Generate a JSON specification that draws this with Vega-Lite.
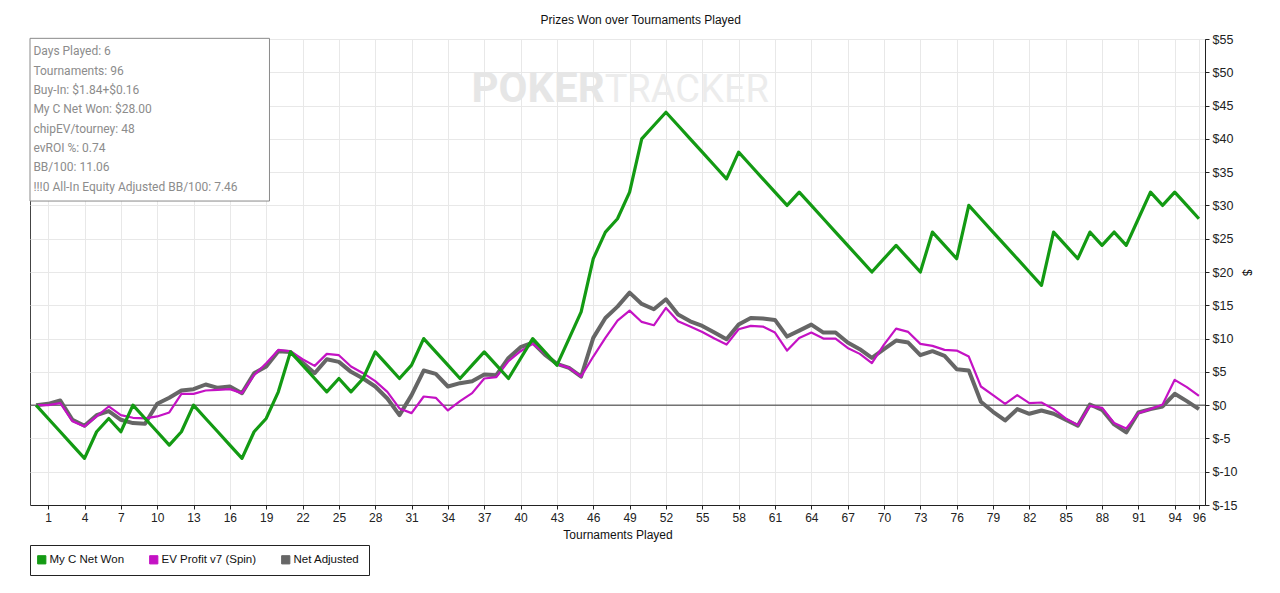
{
  "$schema": "https://vega.github.io/schema/vega-lite/v6.json",
  "width": 1175,
  "height": 466,
  "padding": {"left": 29, "top": 14, "right": 5, "bottom": 5},
  "background": "white",
  "title": {
    "text": "Prizes Won over Tournaments Played",
    "font": "Liberation Sans", "fontSize": 12, "fontWeight": "normal", "color": "#111",
    "anchor": "middle", "frame": "bounds", "offset": 6
  },
  "data": {
    "values": [
      {"t": 0, "won": 0, "ev": 0, "adj": 0},
      {"t": 1, "won": -2, "ev": 0.0, "adj": 0.2},
      {"t": 2, "won": -4, "ev": 0.3, "adj": 0.7},
      {"t": 3, "won": -6, "ev": -2.4, "adj": -2.2},
      {"t": 4, "won": -8, "ev": -3.2, "adj": -3.1},
      {"t": 5, "won": -4, "ev": -1.7, "adj": -1.5},
      {"t": 6, "won": -2, "ev": -0.2, "adj": -0.9},
      {"t": 7, "won": -4, "ev": -1.5, "adj": -2.2},
      {"t": 8, "won": 0, "ev": -1.9, "adj": -2.7},
      {"t": 9, "won": -2, "ev": -2.0, "adj": -2.8},
      {"t": 10, "won": -4, "ev": -1.7, "adj": 0.2},
      {"t": 11, "won": -6, "ev": -1.1, "adj": 1.1},
      {"t": 12, "won": -4, "ev": 1.7, "adj": 2.2},
      {"t": 13, "won": 0, "ev": 1.7, "adj": 2.4},
      {"t": 14, "won": -2, "ev": 2.2, "adj": 3.1},
      {"t": 15, "won": -4, "ev": 2.3, "adj": 2.6},
      {"t": 16, "won": -6, "ev": 2.4, "adj": 2.8},
      {"t": 17, "won": -8, "ev": 1.8, "adj": 1.8},
      {"t": 18, "won": -4, "ev": 4.5, "adj": 4.8},
      {"t": 19, "won": -2, "ev": 6.3, "adj": 5.8},
      {"t": 20, "won": 2, "ev": 8.3, "adj": 8.1},
      {"t": 21, "won": 8, "ev": 8.1, "adj": 8.0},
      {"t": 22, "won": 6, "ev": 6.9, "adj": 6.4},
      {"t": 23, "won": 4, "ev": 5.9, "adj": 4.8},
      {"t": 24, "won": 2, "ev": 7.7, "adj": 6.9},
      {"t": 25, "won": 4, "ev": 7.5, "adj": 6.5},
      {"t": 26, "won": 2, "ev": 5.8, "adj": 5.0},
      {"t": 27, "won": 4, "ev": 4.8, "adj": 4.0},
      {"t": 28, "won": 8, "ev": 3.6, "adj": 2.8},
      {"t": 29, "won": 6, "ev": 2.0, "adj": 1.0},
      {"t": 30, "won": 4, "ev": -0.5, "adj": -1.5},
      {"t": 31, "won": 6, "ev": -1.2, "adj": 1.5},
      {"t": 32, "won": 10, "ev": 1.3, "adj": 5.2},
      {"t": 33, "won": 8, "ev": 1.1, "adj": 4.7},
      {"t": 34, "won": 6, "ev": -0.8, "adj": 2.8},
      {"t": 35, "won": 4, "ev": 0.6, "adj": 3.3},
      {"t": 36, "won": 6, "ev": 1.8, "adj": 3.6},
      {"t": 37, "won": 8, "ev": 4.0, "adj": 4.6},
      {"t": 38, "won": 6, "ev": 4.2, "adj": 4.5},
      {"t": 39, "won": 4, "ev": 6.6, "adj": 7.1},
      {"t": 40, "won": 7, "ev": 8.1, "adj": 8.7},
      {"t": 41, "won": 10, "ev": 9.2, "adj": 9.4},
      {"t": 42, "won": 8, "ev": 7.8, "adj": 7.6},
      {"t": 43, "won": 6, "ev": 6.2, "adj": 6.2},
      {"t": 44, "won": 10, "ev": 5.6, "adj": 5.6},
      {"t": 45, "won": 14, "ev": 4.3, "adj": 4.3},
      {"t": 46, "won": 22, "ev": 7.3, "adj": 10.1},
      {"t": 47, "won": 26, "ev": 10.1, "adj": 13.1},
      {"t": 48, "won": 28, "ev": 12.7, "adj": 14.8},
      {"t": 49, "won": 32, "ev": 14.2, "adj": 16.9},
      {"t": 50, "won": 40, "ev": 12.5, "adj": 15.2},
      {"t": 51, "won": 42, "ev": 12.0, "adj": 14.4},
      {"t": 52, "won": 44, "ev": 14.6, "adj": 15.9},
      {"t": 53, "won": 42, "ev": 12.6, "adj": 13.6},
      {"t": 54, "won": 40, "ev": 11.8, "adj": 12.6},
      {"t": 55, "won": 38, "ev": 11.0, "adj": 11.9},
      {"t": 56, "won": 36, "ev": 10.0, "adj": 10.9},
      {"t": 57, "won": 34, "ev": 9.1, "adj": 9.9},
      {"t": 58, "won": 38, "ev": 11.4, "adj": 12.1},
      {"t": 59, "won": 36, "ev": 11.9, "adj": 13.1},
      {"t": 60, "won": 34, "ev": 11.8, "adj": 13.0},
      {"t": 61, "won": 32, "ev": 10.9, "adj": 12.8},
      {"t": 62, "won": 30, "ev": 8.2, "adj": 10.3},
      {"t": 63, "won": 32, "ev": 10.1, "adj": 11.2},
      {"t": 64, "won": 30, "ev": 10.9, "adj": 12.1},
      {"t": 65, "won": 28, "ev": 10.0, "adj": 10.9},
      {"t": 66, "won": 26, "ev": 10.0, "adj": 10.9},
      {"t": 67, "won": 24, "ev": 8.6, "adj": 9.4},
      {"t": 68, "won": 22, "ev": 7.7, "adj": 8.4},
      {"t": 69, "won": 20, "ev": 6.3, "adj": 7.1},
      {"t": 70, "won": 22, "ev": 9.1, "adj": 8.4},
      {"t": 71, "won": 24, "ev": 11.5, "adj": 9.7},
      {"t": 72, "won": 22, "ev": 11.0, "adj": 9.4},
      {"t": 73, "won": 20, "ev": 9.2, "adj": 7.5},
      {"t": 74, "won": 26, "ev": 8.9, "adj": 8.1},
      {"t": 75, "won": 24, "ev": 8.3, "adj": 7.4},
      {"t": 76, "won": 22, "ev": 8.2, "adj": 5.4},
      {"t": 77, "won": 30, "ev": 7.3, "adj": 5.2},
      {"t": 78, "won": 28, "ev": 2.8, "adj": 0.5},
      {"t": 79, "won": 26, "ev": 1.5, "adj": -1.0},
      {"t": 80, "won": 24, "ev": 0.2, "adj": -2.3},
      {"t": 81, "won": 22, "ev": 1.5, "adj": -0.6},
      {"t": 82, "won": 20, "ev": 0.3, "adj": -1.3},
      {"t": 83, "won": 18, "ev": 0.4, "adj": -0.8},
      {"t": 84, "won": 26, "ev": -0.6, "adj": -1.3},
      {"t": 85, "won": 24, "ev": -2.0, "adj": -2.2},
      {"t": 86, "won": 22, "ev": -3.0, "adj": -3.1},
      {"t": 87, "won": 26, "ev": -0.1, "adj": 0.1},
      {"t": 88, "won": 24, "ev": -0.4, "adj": -0.7},
      {"t": 89, "won": 26, "ev": -2.7, "adj": -2.9},
      {"t": 90, "won": 24, "ev": -3.5, "adj": -4.1},
      {"t": 91, "won": 28, "ev": -1.2, "adj": -1.1},
      {"t": 92, "won": 32, "ev": -0.6, "adj": -0.6},
      {"t": 93, "won": 30, "ev": 0.1, "adj": -0.2},
      {"t": 94, "won": 32, "ev": 3.8, "adj": 1.7},
      {"t": 95, "won": 30, "ev": 2.7, "adj": 0.6},
      {"t": 96, "won": 28, "ev": 1.4, "adj": -0.6}
    ]
  },
  "layer": [
    {
      "data": {"values": [{}]},
      "mark": {"type": "text", "font": "Roboto", "fontSize": 42, "fontWeight": "bold", "color": "#e6e6e6", "align": "right", "baseline": "alphabetic"},
      "encoding": {
        "x": {"datum": 46.94, "type": "quantitative"},
        "y": {"datum": 45.5, "type": "quantitative"},
        "text": {"value": "POKER"}
      }
    },
    {
      "data": {"values": [{}]},
      "mark": {"type": "text", "font": "Roboto", "fontSize": 38, "fontWeight": "normal", "color": "#ececec", "align": "left", "baseline": "alphabetic"},
      "encoding": {
        "x": {"datum": 46.94, "type": "quantitative"},
        "y": {"datum": 45.5, "type": "quantitative"},
        "text": {"value": "TRACKER"}
      }
    },
    {
      "data": {"values": [{}]},
      "mark": {"type": "rule", "color": "#333", "strokeWidth": 1},
      "encoding": {"y": {"datum": 0, "type": "quantitative"}}
    },
    {
      "mark": {"type": "line", "strokeWidth": 4, "strokeJoin": "round"},
      "encoding": {
        "x": {
          "field": "t", "type": "quantitative", "title": "Tournaments Played",
          "scale": {"domain": [-0.5, 96.5], "nice": false, "zero": false},
          "axis": {
            "values": [1, 4, 7, 10, 13, 16, 19, 22, 25, 28, 31, 34, 37, 40, 43, 46, 49, 52, 55, 58, 61, 64, 67, 70, 73, 76, 79, 82, 85, 88, 91, 94, 96],
            "tickCount": 200, "format": "d",
            "labelOverlap": false, "labelFlush": false, "labelAngle": 0
          }
        },
        "y": {
          "field": "adj", "type": "quantitative", "title": "$",
          "scale": {"domain": [-15, 55], "nice": false, "zero": false},
          "axis": {
            "orient": "right",
            "values": [-15, -10, -5, 0, 5, 10, 15, 20, 25, 30, 35, 40, 45, 50, 55],
            "tickCount": 200,
            "labelExpr": "'$' + datum.value"
          }
        },
        "color": {
          "datum": "Net Adjusted", "type": "nominal",
          "scale": {"domain": ["My C Net Won", "EV Profit v7 (Spin)", "Net Adjusted"], "range": ["#139a13", "#c412c4", "#666666"]},
          "legend": {
            "orient": "none", "legendX": 0, "legendY": 506,
            "direction": "horizontal", "title": null,
            "symbolType": "square", "symbolSize": 68, "symbolOffset": -3,
            "strokeColor": "#222", "fillColor": "white", "padding": 9,
            "columnPadding": 22, "labelOffset": 2,
            "labelFont": "Liberation Sans", "labelFontSize": 11.5, "labelColor": "#111",
            "encode": {
              "symbols": {
                "update": {
                  "fill": {"scale": "color", "field": "value"},
                  "stroke": {"value": "#222"},
                  "strokeWidth": {"value": 1},
                  "opacity": {"value": 1}
                }
              }
            }
          }
        }
      }
    },
    {
      "mark": {"type": "line", "strokeWidth": 2.2, "strokeJoin": "round"},
      "encoding": {
        "x": {"field": "t", "type": "quantitative", "title": "Tournaments Played"},
        "y": {"field": "ev", "type": "quantitative", "title": "$"},
        "color": {"datum": "EV Profit v7 (Spin)", "type": "nominal"}
      }
    },
    {
      "mark": {"type": "line", "strokeWidth": 3.2, "strokeJoin": "round"},
      "encoding": {
        "x": {"field": "t", "type": "quantitative", "title": "Tournaments Played"},
        "y": {"field": "won", "type": "quantitative", "title": "$"},
        "color": {"datum": "My C Net Won", "type": "nominal"}
      }
    },
    {
      "data": {"values": [{}]},
      "mark": {"type": "rect", "fill": "white", "stroke": "#8a8a8a", "strokeWidth": 1},
      "encoding": {
        "x": {"datum": -0.5, "type": "quantitative"},
        "x2": {"datum": 19.27},
        "y": {"datum": 55.1, "type": "quantitative"},
        "y2": {"datum": 30.66}
      }
    },
    {
      "data": {"values": [{}]},
      "mark": {"type": "text", "font": "Roboto", "fontSize": 12, "color": "#8c8c8c", "align": "left", "baseline": "top", "lineHeight": 19.33},
      "encoding": {
        "x": {"datum": -0.22, "type": "quantitative"},
        "y": {"datum": 53.9, "type": "quantitative"},
        "text": {"value": ["Days Played: 6", "Tournaments: 96", "Buy-In: $1.84+$0.16", "My C Net Won: $28.00", "chipEV/tourney: 48", "evROI %: 0.74", "BB/100: 11.06", "!!!0 All-In Equity Adjusted BB/100: 7.46"]}
      }
    }
  ],
  "config": {
    "view": {"stroke": "#444", "strokeWidth": 1},
    "axis": {
      "labelOverlap": false,
      "grid": true, "gridColor": "#e8e8e8",
      "domainColor": "#222", "tickColor": "#222", "tickSize": 4,
      "labelFont": "Liberation Sans", "labelColor": "#222",
      "titleFont": "Liberation Sans", "titleFontSize": 12, "titleFontWeight": "normal", "titleColor": "#111"
    },
    "axisX": {"labelPadding": 3, "labelFontSize": 12, "titlePadding": 6},
    "axisY": {"labelPadding": 3, "labelFontSize": 12.5, "titlePadding": 2}
  }
}
